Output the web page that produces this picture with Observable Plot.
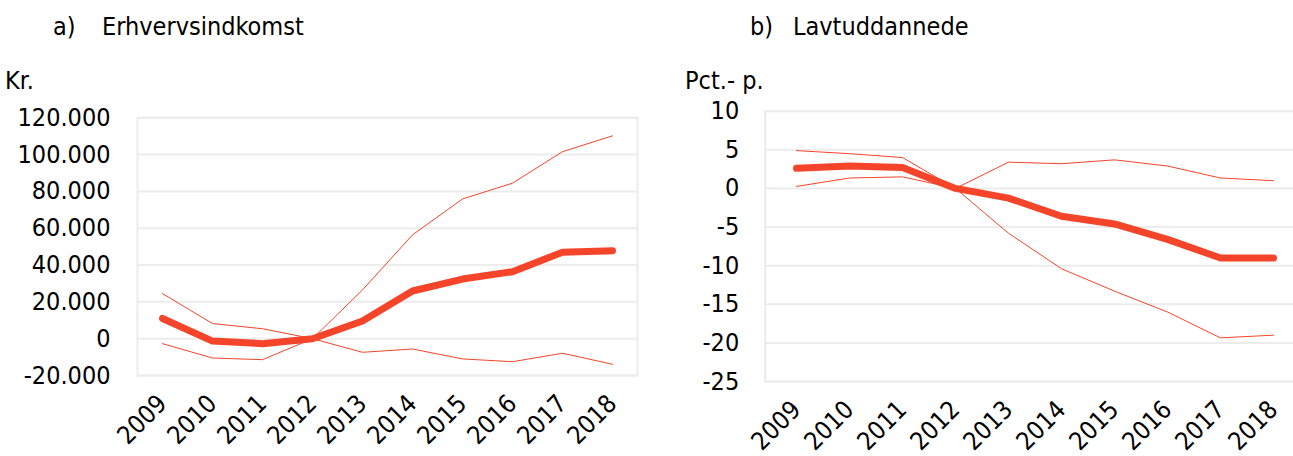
<!DOCTYPE html>
<html><head><meta charset="utf-8">
<script src="https://cdn.jsdelivr.net/npm/d3@7"></script>
<script src="https://cdn.jsdelivr.net/npm/@observablehq/plot@0.6"></script>
<style>
html,body{margin:0;padding:0;background:#fff;}
body{width:1293px;height:456px;overflow:hidden;position:relative;font-family:"DejaVu Sans Condensed","DejaVu Sans",sans-serif;font-stretch:condensed;}
.t{position:absolute;font-size:25px;line-height:25px;color:#000;white-space:pre;}
.p{position:absolute;top:100px;height:356px;}
.p svg{max-width:none !important;}
</style></head><body>
<div class="t" style="left:53px;top:14px">a)</div>
<div class="t" style="left:102px;top:14px">Erhvervsindkomst</div>
<div class="t" style="left:5px;top:68px">Kr.</div>
<div class="t" style="left:750px;top:14px">b)</div>
<div class="t" style="left:793px;top:14px">Lavtuddannede</div>
<div class="t" style="left:685px;top:68px">Pct.- p.</div>
<div id="left" class="p" style="left:0px;width:646px"></div>
<div id="right" class="p" style="left:646px;width:658px"></div>
<script>
// Categories
const years = ["2009","2010","2011","2012","2013","2014","2015","2016","2017","2018"];

// a) Erhvervsindkomst (kr.)
const incomeMain  = [11000, -1300, -2700, 0, 9600, 25900, 32400, 36400, 47000, 47800];
const incomeBandA = [24500, 8200, 5400, 0, -7400, -5600, -11000, -12500, -7900, -13900];
const incomeBandB = [-2700, -10500, -11400, 0, 26500, 56400, 75900, 84500, 101600, 110200];
const incomeTicks = [-20000, 0, 20000, 40000, 60000, 80000, 100000, 120000];

// b) Lavtuddannede (pct.-point)
const lowMain  = [2.6, 2.9, 2.7, 0, -1.25, -3.6, -4.6, -6.6, -9.0, -9.0];
const lowBandA = [4.9, 4.5, 4.0, 0, -5.8, -10.4, -13.3, -16.0, -19.35, -19.0];
const lowBandB = [0.26, 1.35, 1.5, 0, 3.4, 3.2, 3.7, 2.9, 1.35, 1.0];
const lowTicks = [-25, -20, -15, -10, -5, 0, 5, 10];

const RED = "#f4452a";
const GRID = "#ececec";
const FONT = '"DejaVu Sans Condensed","DejaVu Sans",sans-serif';

const fmtDK = d => d3.format(",")(d).replace(/,/g, ".").replace("\u2212", "-");
const fmtNum = d => String(d);

function panel(main, bandA, bandB, ticks, fmt, opts) {
  const table = years.map((y, i) => ({year: y, main: main[i], a: bandA[i], b: bandB[i]}));
  return Plot.plot({
    width: opts.width, height: 356,
    marginTop: opts.mt, marginBottom: opts.mb, marginLeft: opts.ml, marginRight: opts.mr,
    style: {fontFamily: FONT, fontSize: "25px", color: "#000", background: "transparent", fontStretch: "condensed", overflow: "visible", maxWidth: "none"},
    x: {type: "point", domain: years, padding: 0.5, label: null, tickSize: 0, tickRotate: -45, tickPadding: 24, tickFormat: d => d},
    y: {domain: [ticks[0], ticks[ticks.length - 1]], ticks: ticks, tickFormat: fmt, label: null, tickSize: 0, tickPadding: opts.ytp},
    marks: [
      Plot.gridY(ticks, {stroke: GRID, strokeWidth: 2, strokeOpacity: 1}),
      Plot.frame({stroke: GRID, strokeWidth: 2}),
      Plot.line(table, {x: "year", y: "a", stroke: RED, strokeWidth: 1}),
      Plot.line(table, {x: "year", y: "b", stroke: RED, strokeWidth: 1}),
      Plot.line(table, {x: "year", y: "main", stroke: RED, strokeWidth: 7, strokeLinecap: "round", strokeLinejoin: "round"})
    ]
  });
}

document.getElementById("left").append(
  panel(incomeMain, incomeBandA, incomeBandB, incomeTicks, fmtDK,
        {width: 646, mt: 17.3, mb: 81, ml: 137, mr: 9, ytp: 27}));
document.getElementById("right").append(
  panel(lowMain, lowBandA, lowBandB, lowTicks, d => fmtNum(d),
        {width: 658, mt: 10.7, mb: 75, ml: 118.7, mr: 0, ytp: 26}));
</script>
</body></html>
